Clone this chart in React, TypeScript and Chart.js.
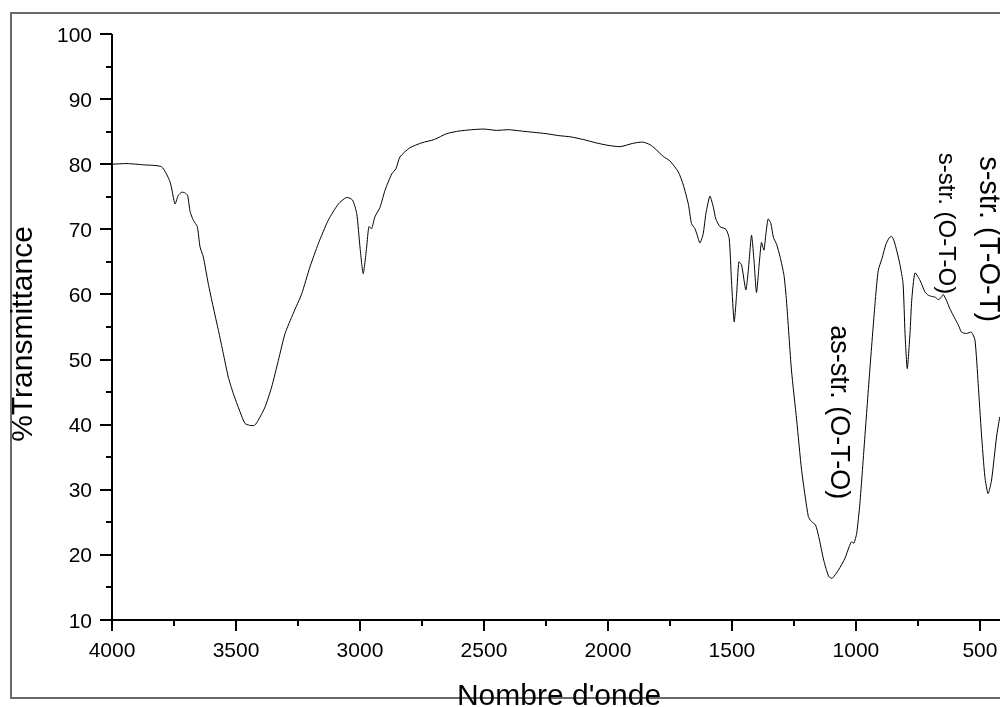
import React, { useEffect, useRef } from "react";
import { Chart, registerables } from "chart.js";

Chart.register(...registerables);

// ---- Data ----
const wavenumbers: number[] = [
  4000, 3940, 3870, 3800, 3766, 3746, 3733, 3719, 3706, 3695, 3685, 3672, 3656, 3645, 3632,
  3612, 3592, 3571, 3551, 3531, 3511, 3484, 3464, 3445, 3425, 3410, 3383, 3356, 3329, 3302,
  3269, 3235, 3202, 3168, 3128, 3087, 3054, 3030, 3013, 3000, 2987, 2973, 2964, 2953, 2940,
  2919, 2899, 2872, 2855, 2839, 2800, 2750, 2700, 2650, 2600, 2550, 2500, 2450, 2400, 2350,
  2300, 2250, 2200, 2150, 2100, 2050, 2000, 1950, 1900, 1860, 1830, 1810, 1777, 1750, 1716,
  1696, 1676, 1663, 1649, 1640, 1629, 1616, 1605, 1589, 1575, 1565, 1548, 1524, 1511, 1502,
  1491, 1481, 1472, 1461, 1444, 1434, 1421, 1411, 1401, 1390, 1381, 1371, 1363, 1354, 1343,
  1333, 1320, 1306, 1290, 1280, 1260, 1239, 1219, 1192, 1179, 1163, 1150, 1130, 1110, 1096,
  1070, 1044, 1027, 1018, 1008, 997, 984, 964, 944, 923, 910, 895, 880, 866, 856, 846, 836,
  823, 810, 802, 793, 782, 775, 762, 742, 722, 709, 695, 681, 668, 655, 648, 635, 621, 601,
  587, 574, 554, 534, 520, 507, 494, 480, 467, 453, 433, 420,
];
const transmittance: number[] = [
  80.0, 80.1, 79.9, 79.6, 77.3, 73.9, 75.2, 75.7, 75.6, 75.2, 72.7, 71.4, 70.4, 67.3, 65.8,
  61.7, 58.1, 54.5, 50.9, 47.3, 44.8, 42.0, 40.2, 39.9, 39.9, 40.7, 42.7, 45.8, 49.9, 54.0,
  57.1, 60.1, 64.2, 67.8, 71.4, 73.9, 74.9, 74.5, 72.4, 67.3, 63.2, 67.3, 70.4, 70.1, 71.9,
  73.4, 76.0, 78.5, 79.3, 81.1, 82.5, 83.3, 83.8, 84.7, 85.1, 85.3, 85.4, 85.2, 85.3, 85.1,
  84.9, 84.7, 84.4, 84.2, 83.8, 83.3, 82.9, 82.7, 83.2, 83.4, 83.0, 82.4, 81.2, 80.5, 78.8,
  76.8, 73.9, 70.9, 70.1, 69.1, 67.9, 69.3, 72.4, 75.1, 73.4, 71.6, 70.4, 70.0, 68.6, 62.2,
  55.8, 60.1, 65.0, 64.5, 60.7, 63.7, 69.1, 65.2, 60.3, 64.7, 68.0, 66.8, 69.3, 71.6, 70.9,
  68.8, 67.7, 65.8, 62.9, 59.0, 48.4, 40.7, 33.0, 25.9, 25.1, 24.6, 22.8, 19.2, 16.7, 16.4,
  17.7, 19.5, 21.3, 22.0, 21.8, 23.3, 27.9, 38.1, 48.4, 58.6, 63.7, 65.5, 67.6, 68.7, 68.9, 68.2, 66.8,
  64.7, 61.7, 54.0, 48.6, 54.0, 59.1, 63.3, 62.2, 60.4, 59.9, 59.7, 59.6, 59.2, 59.6, 60.0, 59.1, 57.8, 56.3,
  55.3, 54.2, 54.0, 54.2, 53.0, 46.3, 38.7, 32.0, 29.4, 31.5, 38.1, 41.2,
];

const xMajorTicks: number[] = [4000, 3500, 3000, 2500, 2000, 1500, 1000, 500];
const xMinorTicks: number[] = [3750, 3250, 2750, 2250, 1750, 1250, 750];
const yMajorTicks: number[] = [10, 20, 30, 40, 50, 60, 70, 80, 90, 100];
const yMinorTicks: number[] = [15, 25, 35, 45, 55, 65, 75, 85, 95];

const annotationTexts: string[] = ["as-str. (O-T-O)", "s-str. (O-T-O)", "s-str. (T-O-T)"];
const annotationWavenumbers: number[] = [1071, 640, 466];
const annotationTransmittance: number[] = [41.9, 70.9, 68.5];

const xTitle = "Nombre d'onde";
const yTitle = "%Transmittance";

const FONT = "'Liberation Sans', Arial, Helvetica, sans-serif";

const decorPlugin = {
  id: "irDecor",
  afterDraw(chart: any) {
    const ctx: CanvasRenderingContext2D = chart.ctx;
    const { left, right, top, bottom } = chart.chartArea;
    const xs = chart.scales.x;
    const ys = chart.scales.y;
    ctx.save();

    // outer frame
    ctx.strokeStyle = "#6a6a6a";
    ctx.lineWidth = 2;
    ctx.strokeRect(11, 13, 1020, 685);

    // axes lines
    ctx.strokeStyle = "#000";
    ctx.lineWidth = 2;
    ctx.beginPath();
    ctx.moveTo(left, top);
    ctx.lineTo(left, bottom);
    ctx.lineTo(right + 2, bottom);
    ctx.stroke();

    // ticks
    ctx.beginPath();
    xMajorTicks.forEach((v) => {
      const px = Math.round(xs.getPixelForValue(v));
      ctx.moveTo(px, bottom);
      ctx.lineTo(px, bottom + 11);
    });
    xMinorTicks.forEach((v) => {
      const px = Math.round(xs.getPixelForValue(v));
      ctx.moveTo(px, bottom);
      ctx.lineTo(px, bottom + 6);
    });
    yMajorTicks.forEach((v) => {
      const py = Math.round(ys.getPixelForValue(v));
      ctx.moveTo(left, py);
      ctx.lineTo(left - 12, py);
    });
    yMinorTicks.forEach((v) => {
      const py = Math.round(ys.getPixelForValue(v));
      ctx.moveTo(left, py);
      ctx.lineTo(left - 6, py);
    });
    ctx.stroke();

    // tick labels
    ctx.fillStyle = "#000";
    ctx.font = `21px ${FONT}`;
    ctx.textBaseline = "alphabetic";
    ctx.textAlign = "center";
    xMajorTicks.forEach((v) => {
      ctx.fillText(String(v), xs.getPixelForValue(v), bottom + 37);
    });
    ctx.textAlign = "right";
    yMajorTicks.forEach((v) => {
      ctx.fillText(String(v), left - 20, ys.getPixelForValue(v) + 7.5);
    });

    // axis titles
    ctx.font = `30px ${FONT}`;
    ctx.textAlign = "center";
    ctx.fillText(xTitle, (left + right) / 2 + 3, 705);
    ctx.save();
    ctx.translate(32, 334);
    ctx.rotate(-Math.PI / 2);
    ctx.fillText(yTitle, 0, 0);
    ctx.restore();

    // annotations (rotated, reading top to bottom)
    const sizes = [27, 24, 29];
    annotationTexts.forEach((t, i) => {
      const px = xs.getPixelForValue(annotationWavenumbers[i]);
      const py = ys.getPixelForValue(annotationTransmittance[i]);
      ctx.save();
      ctx.translate(px, py);
      ctx.rotate(Math.PI / 2);
      ctx.font = `${sizes[i]}px ${FONT}`;
      ctx.textAlign = "center";
      ctx.textBaseline = "middle";
      ctx.fillText(t, 0, 0);
      ctx.restore();
    });

    ctx.restore();
  },
};

export default function App() {
  const canvasRef = useRef<HTMLCanvasElement | null>(null);

  useEffect(() => {
    if (!canvasRef.current) return;
    const points = wavenumbers.map((w, i) => ({ x: w, y: transmittance[i] }));
    const chart = new Chart(canvasRef.current, {
      type: "line",
      data: {
        datasets: [
          {
            data: points,
            borderColor: "#000",
            borderWidth: 1,
            pointRadius: 0,
            tension: 0.2,
            fill: false,
          },
        ],
      },
      options: {
        responsive: false,
        animation: false,
        devicePixelRatio: 1,
        layout: { padding: { left: 112, top: 34, right: 0, bottom: 87 } },
        plugins: { legend: { display: false }, tooltip: { enabled: false } },
        scales: {
          x: { type: "linear", reverse: true, min: 419, max: 4000, display: false },
          y: { type: "linear", min: 10, max: 100, display: false },
        },
      },
      plugins: [decorPlugin],
    });
    return () => chart.destroy();
  }, []);

  return (
    <div style={{ position: "absolute", left: 0, top: 0, width: 1000, height: 707, background: "#fff" }}>
      <canvas ref={canvasRef} width={1000} height={707} style={{ display: "block" }} />
    </div>
  );
}
